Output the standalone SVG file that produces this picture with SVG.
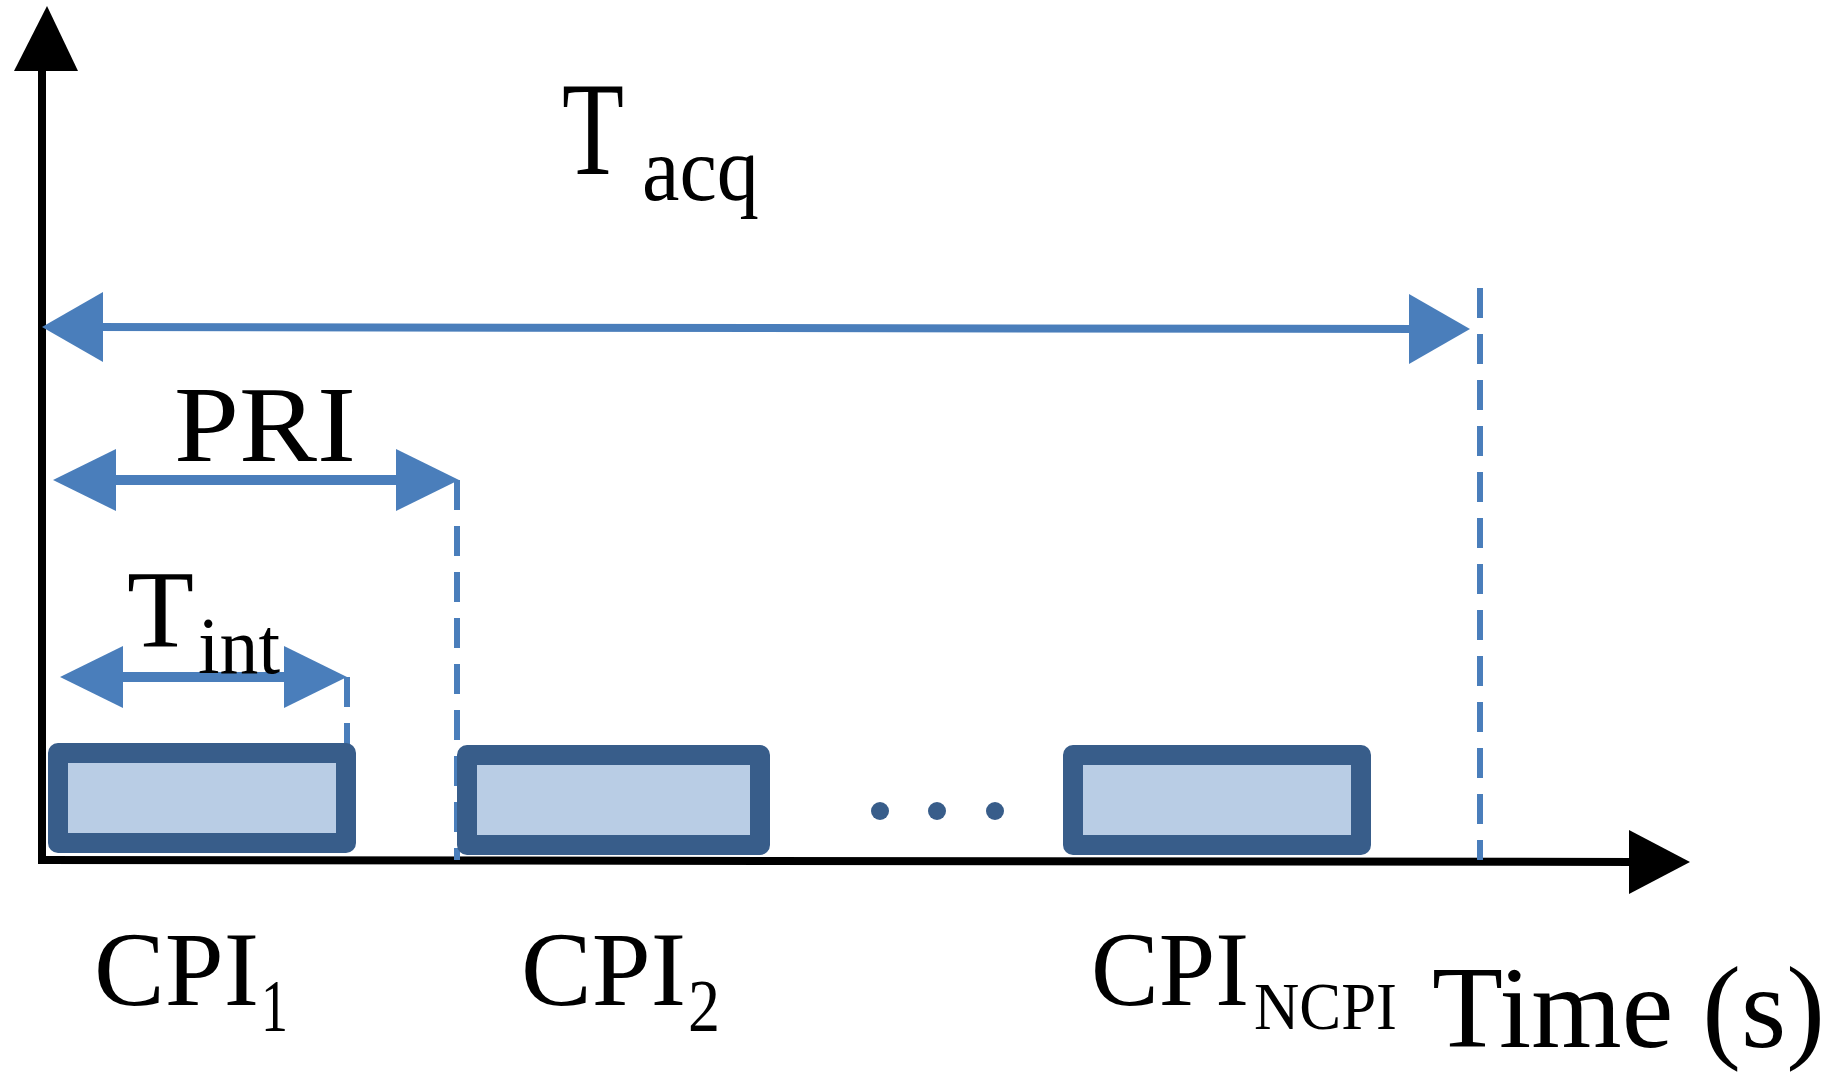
<svg xmlns="http://www.w3.org/2000/svg" width="1835" height="1089" viewBox="0 0 1835 1089">
<style>
.t{font-family:"Liberation Serif",serif;fill:#000}
.dash{stroke:#4a7ebb;stroke-width:6;stroke-dasharray:30,16;fill:none}
.box{fill:#b9cde5;stroke:#385d8a;stroke-width:20;stroke-linejoin:round}
.arr{fill:#4a7ebb}
</style>
<rect width="1835" height="1089" fill="#fff"/>
<g id="connectors">
<line x1="42" y1="860" x2="42" y2="60" stroke="#000" stroke-width="8"/>
<polygon points="47,6 14,71 78,71" fill="#000"/>
<line x1="38" y1="860" x2="1635" y2="862" stroke="#000" stroke-width="8"/>
<polygon points="1690,862 1629,830 1629,894" fill="#000"/>
<line class="dash" x1="1480" y1="288" x2="1480" y2="860"/>
<line class="dash" x1="457" y1="480" x2="457" y2="860"/>
<line class="dash" x1="347" y1="677" x2="347" y2="750"/>
<g class="arr">
<line x1="90" y1="327" x2="1420" y2="329" stroke="#4a7ebb" stroke-width="8"/>
<polygon points="42,327 103,292 103,362"/>
<polygon points="1470,329 1409,294 1409,364"/>
<line x1="100" y1="480" x2="410" y2="480" stroke="#4a7ebb" stroke-width="10"/>
<polygon points="53,480 116,449 116,511"/>
<polygon points="459,480 396,449 396,511"/>
<line x1="100" y1="677" x2="300" y2="677" stroke="#4a7ebb" stroke-width="10"/>
<polygon points="60,677 123,646 123,708"/>
<polygon points="347,677 284,646 284,708"/>
</g>
</g>
<g id="cpi1"><rect class="box" x="58" y="753" width="288" height="90"/></g>
<g id="cpi2"><rect class="box" x="467" y="755" width="293" height="90"/></g>
<g id="cpin"><rect class="box" x="1073" y="755" width="288" height="90"/></g>
<g id="dots" fill="#385d8a">
<circle cx="880" cy="811" r="9"/><circle cx="937" cy="811" r="9"/><circle cx="995" cy="811" r="9"/>
</g>
<g id="labels">
<text class="t" x="562" y="174" font-size="133" textLength="62" lengthAdjust="spacingAndGlyphs">T</text>
<text class="t" x="642" y="200" font-size="90" textLength="117" lengthAdjust="spacingAndGlyphs">acq</text>
<text class="t" x="174" y="461" font-size="107" textLength="182" lengthAdjust="spacingAndGlyphs">PRI</text>
<text class="t" x="127" y="647" font-size="110" textLength="67" lengthAdjust="spacingAndGlyphs">T</text>
<text class="t" x="198" y="673" font-size="80" textLength="82" lengthAdjust="spacingAndGlyphs">int</text>
<text class="t" x="94" y="1005" font-size="106" textLength="165" lengthAdjust="spacingAndGlyphs">CPI</text>
<text class="t" x="261" y="1031" font-size="75" textLength="27" lengthAdjust="spacingAndGlyphs">1</text>
<text class="t" x="521" y="1005" font-size="106" textLength="165" lengthAdjust="spacingAndGlyphs">CPI</text>
<text class="t" x="688" y="1031" font-size="75" textLength="32" lengthAdjust="spacingAndGlyphs">2</text>
<text class="t" x="1091" y="1005" font-size="106" textLength="158" lengthAdjust="spacingAndGlyphs">CPI</text>
<text class="t" x="1254" y="1029" font-size="68" textLength="143" lengthAdjust="spacingAndGlyphs">NCPI</text>
<text class="t" x="1432" y="1047" font-size="116" textLength="393" lengthAdjust="spacingAndGlyphs">Time (s)</text>
</g>
</svg>
